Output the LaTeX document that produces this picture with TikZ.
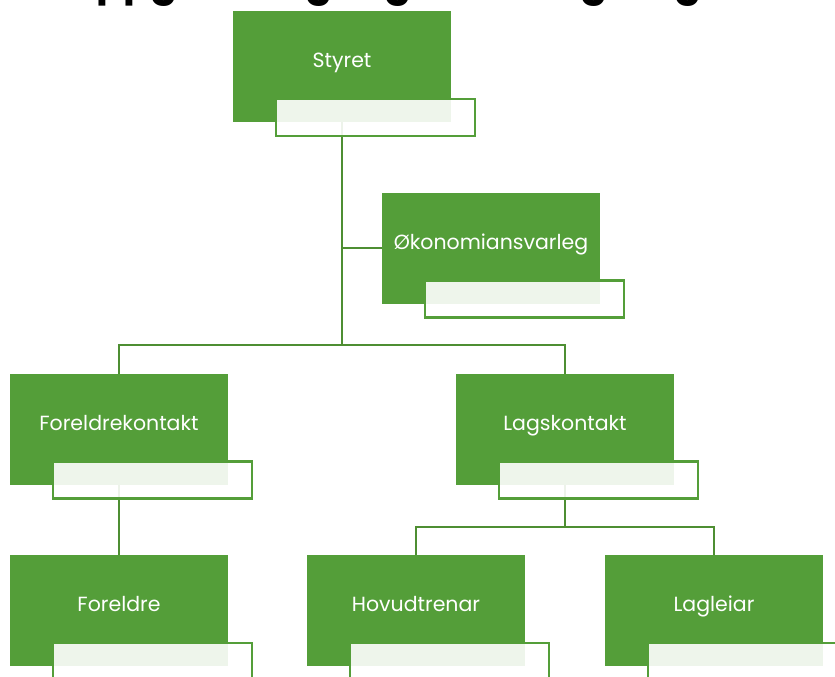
\documentclass[tikz,border=0pt]{standalone}
\usepackage{fontspec}
\setmainfont{Poppins}
\definecolor{boxgreen}{RGB}{84,158,57}
\definecolor{linegreen}{RGB}{78,142,50}
\tikzset{
  rolebox/.style={fill=boxgreen, minimum width=218pt, minimum height=111pt, inner sep=0pt, outer sep=0pt,
    text=white, font=\fontsize{20.5}{24}\selectfont, text height=11pt, text depth=8.5pt},
  subbox/.style={draw=boxgreen, line width=2.2pt, fill=white, fill opacity=0.9, minimum width=199pt,
    minimum height=37pt, inner sep=0pt, outer sep=0pt, anchor=north east},
  link/.style={draw=linegreen, line width=2.5pt}
}
\begin{document}
\begin{tikzpicture}[x=1pt,y=-1pt]
                    \useasboundingbox (0,0) rectangle (835,677);
                    \clip (0,0) rectangle (835,677);
                    \node[anchor=base, font=\fontsize{40}{44}\selectfont\bfseries] (title) at (404,-4) {Oppgåver og organisering i laget};
                    \node[rolebox] (styret) at (342,66.5) {Styret};
                    \node[rolebox] (okonomi) at (491,248) {Økonomiansvarleg};
                    \node[rolebox] (foreldrekontakt) at (119,429) {Foreldrekontakt};
                    \node[rolebox] (lagskontakt) at (565,429) {Lagskontakt};
                    \node[rolebox] (foreldre) at (119,610.5) {Foreldre};
                    \node[rolebox] (hovudtrenar) at (416,610.5) {Hovudtrenar};
                    \node[rolebox] (lagleiar) at (714,610.5) {Lagleiar};
                    \coordinate (bus1) at (342,345);
                    \coordinate (bus2) at (565,527);
                    \draw[link] (styret.south) -- (bus1);
                    \draw[link] (styret.south |- okonomi.west) -- (okonomi.west);
                    \draw[link] (foreldrekontakt.north) |- (bus1) -| (lagskontakt.north);
                    \draw[link] (foreldrekontakt.south) -- (foreldre.north);
                    \draw[link] (lagskontakt.south) -- (bus2);
                    \draw[link] (hovudtrenar.north) |- (bus2) -| (lagleiar.north);
                    \node[subbox] (styret-sub) at ([xshift=24pt,yshift=23pt]styret.south east) {};
                    \node[subbox] (okonomi-sub) at ([xshift=24pt,yshift=23pt]okonomi.south east) {};
                    \node[subbox] (foreldrekontakt-sub) at ([xshift=24pt,yshift=23pt]foreldrekontakt.south east) {};
                    \node[subbox] (lagskontakt-sub) at ([xshift=24pt,yshift=23pt]lagskontakt.south east) {};
                    \node[subbox] (foreldre-sub) at ([xshift=24pt,yshift=23pt]foreldre.south east) {};
                    \node[subbox] (hovudtrenar-sub) at ([xshift=24pt,yshift=23pt]hovudtrenar.south east) {};
                    \node[subbox] (lagleiar-sub) at ([xshift=24pt,yshift=23pt]lagleiar.south east) {};
                \end{tikzpicture}
\end{document}
